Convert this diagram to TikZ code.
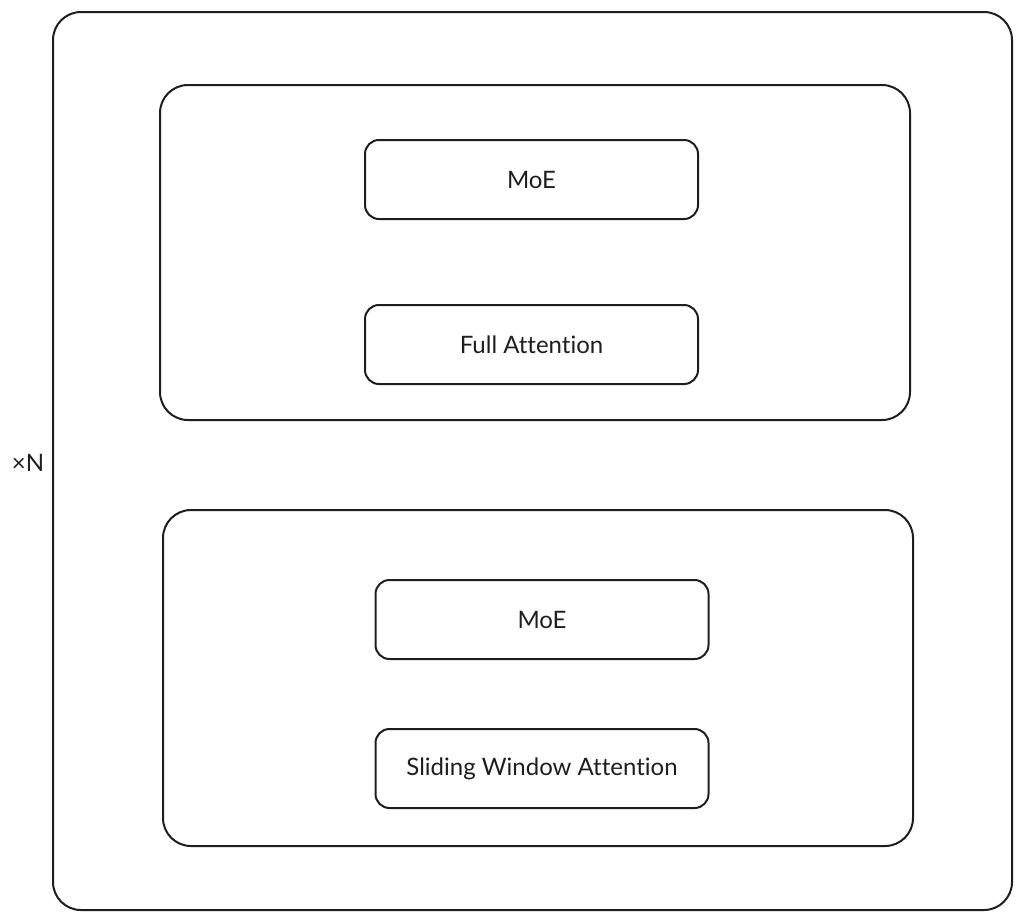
\documentclass[tikz,border=0pt]{standalone}
\usepackage{fontspec}
\setmainfont[Ligatures=NoCommon]{Lato}
\definecolor{ink}{HTML}{1E1E1E}
\begin{document}
\begin{tikzpicture}[x=1pt,y=-1pt,
  frame/.style={draw=ink,line width=2pt,rounded corners=28pt,inner sep=0pt},
  block/.style={draw=ink,line width=2pt,rounded corners=14pt,inner sep=0pt,
    minimum width=333pt,minimum height=79pt,font=\fontsize{24}{28}\selectfont,text=ink},
  lbl/.style={font=\fontsize{24}{28}\selectfont,text=ink,inner sep=0pt}]
\useasboundingbox (0,0) rectangle (1024,922);
\node[frame,minimum width=959pt,minimum height=898pt] (outer) at (532.5,461) {};
\node[frame,minimum width=750pt,minimum height=335pt] (top) at (535,252.5) {};
\node[frame,minimum width=750pt,minimum height=336pt] (bot) at (538,678) {};
\node[block] (moe1) at (531.5,179.5) {MoE};
\node[block] (fa) at (531.5,344.5) {Full Attention};
\node[block] (moe2) at (542,619.5) {MoE};
\node[block] (swa) at (542,768.5) {Sliding Window Attention};
\node[lbl] (xn) at (28,463) {×N};
\end{tikzpicture}
\end{document}
